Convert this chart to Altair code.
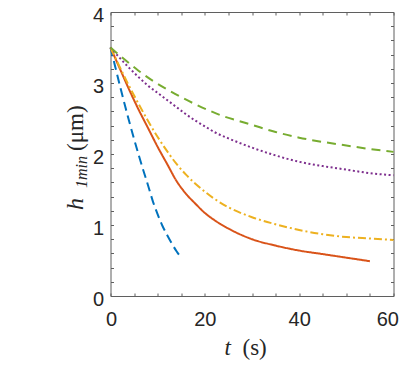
import altair as alt
import pandas as pd

# ---- data ----
t_blue = [0, 1, 2, 3, 4, 5, 6, 7, 8, 9, 10, 11, 12, 13, 14, 15]
h_blue = [3.50, 3.23, 2.96, 2.70, 2.45, 2.21, 1.98, 1.76, 1.55, 1.33, 1.15, 0.99, 0.86, 0.74, 0.63, 0.54]

t_red = [0, 2, 4, 6, 8, 10, 12, 14, 16, 18, 20, 22, 25, 30, 35, 40, 45, 50, 55]
h_red = [3.50, 3.20, 2.90, 2.62, 2.36, 2.10, 1.86, 1.62, 1.44, 1.30, 1.17, 1.07, 0.95, 0.80, 0.71, 0.64, 0.59, 0.54, 0.49]

t_yel = [0, 2, 4, 6, 8, 10, 12, 14, 16, 18, 20, 22, 25, 30, 35, 40, 45, 50, 55, 60]
h_yel = [3.50, 3.22, 2.95, 2.70, 2.46, 2.24, 2.04, 1.86, 1.71, 1.58, 1.47, 1.37, 1.25, 1.11, 1.01, 0.93, 0.87, 0.83, 0.81, 0.79]

t_pur = [0, 2, 4, 6, 8, 10, 12, 14, 16, 18, 20, 22, 25, 30, 35, 40, 45, 50, 55, 60]
h_pur = [3.50, 3.35, 3.21, 3.08, 2.96, 2.86, 2.76, 2.66, 2.56, 2.47, 2.39, 2.31, 2.22, 2.09, 1.98, 1.89, 1.83, 1.78, 1.73, 1.70]

t_grn = [0, 3, 6, 9, 12, 15, 18, 21, 24, 27, 30, 35, 40, 45, 50, 55, 60]
h_grn = [3.50, 3.33, 3.17, 3.03, 2.91, 2.80, 2.70, 2.61, 2.53, 2.47, 2.41, 2.31, 2.23, 2.17, 2.12, 2.07, 2.03]

series_names = ["s1", "s2", "s3", "s4", "s5"]
series_colors = ["#0072BD", "#D95319", "#EDB120", "#7E2F8E", "#77AC30"]
series_dashes = [[9, 5], [1, 0], [8, 3, 2, 3], [2, 2.5], [9, 6]]

x_ticks = [0, 5, 10, 15, 20, 25, 30, 35, 40, 45, 50, 55, 60]
y_ticks = [round(0.2 * i, 1) for i in range(21)]

rows = []
for name, ts, hs in zip(series_names,
                        [t_blue, t_red, t_yel, t_pur, t_grn],
                        [h_blue, h_red, h_yel, h_pur, h_grn]):
    for t, h in zip(ts, hs):
        rows.append({"series": name, "t": t, "h": h})
df = pd.DataFrame(rows)

AX = "#5f5f5f"
LBL = "#262626"
FONT = "Liberation Sans"
SERIF = "Liberation Serif"

xscale = alt.Scale(domain=[0, 60], nice=False, zero=False)
yscale = alt.Scale(domain=[0, 4], nice=False, zero=False)

lines = alt.Chart(df).mark_line(strokeWidth=2, interpolate="monotone").encode(
    x=alt.X("t:Q", scale=xscale, axis=alt.Axis(
        orient="bottom", values=x_ticks, title=None, grid=False, domain=False,
        tickSize=3, offset=-3, tickColor=AX, tickWidth=1,
        labelExpr="datum.value % 20 == 0 ? format(datum.value, 'd') : ''",
        labelFont=FONT, labelFontSize=20, labelColor=LBL, labelPadding=13,
        labelFlush=True, labelFlushOffset=5)),
    y=alt.Y("h:Q", scale=yscale, axis=alt.Axis(
        orient="left", values=y_ticks, title=None, grid=False, domain=False,
        tickSize=3, offset=-3, tickColor=AX, tickWidth=1,
        labelExpr="datum.value % 1 == 0 ? format(datum.value, 'd') : ''",
        labelFont=FONT, labelFontSize=20, labelColor=LBL, labelPadding=7,
        labelOffset=3.5, labelFlush=False)),
    color=alt.Color("series:N", scale=alt.Scale(domain=series_names, range=series_colors), legend=None),
    strokeDash=alt.StrokeDash("series:N", scale=alt.Scale(domain=series_names, range=series_dashes), legend=None),
)

frame = alt.Chart(df).mark_point(opacity=0).encode(
    x=alt.X("t:Q", scale=xscale, axis=alt.Axis(
        orient="top", values=x_ticks, title=None, grid=False, domain=False,
        tickSize=3, offset=-3, tickColor=AX, labels=False)),
    y=alt.Y("h:Q", scale=yscale, axis=alt.Axis(
        orient="right", values=y_ticks, title=None, grid=False, domain=False,
        tickSize=3, offset=-3, tickColor=AX, labels=False)),
)

# axis titles (LaTeX-like, italic symbols)
title_df = pd.DataFrame({"k": [0]})
xt1 = alt.Chart(title_df).mark_text(text="t", font=SERIF, fontSize=23, fontStyle="italic",
                                    align="left", baseline="alphabetic", color=LBL).encode(
    x=alt.value(114), y=alt.value(343))
xt2 = alt.Chart(title_df).mark_text(text="(s)", font=SERIF, fontSize=23,
                                    align="left", baseline="alphabetic", color=LBL).encode(
    x=alt.value(132), y=alt.value(343))
yt1 = alt.Chart(title_df).mark_text(text="h", font=SERIF, fontSize=24, fontStyle="italic", angle=270,
                                    align="left", baseline="alphabetic", color=LBL).encode(
    x=alt.value(-28), y=alt.value(198))
yt2 = alt.Chart(title_df).mark_text(text="1min", font=SERIF, fontSize=16, fontStyle="italic", angle=270,
                                    align="left", baseline="alphabetic", color=LBL).encode(
    x=alt.value(-24), y=alt.value(176))
yt3 = alt.Chart(title_df).mark_text(text="(μm)", font=SERIF, fontSize=23, angle=270,
                                    align="left", baseline="alphabetic", color=LBL).encode(
    x=alt.value(-28), y=alt.value(139))

chart = alt.layer(lines, frame, xt1, xt2, yt1, yt2, yt3).resolve_axis(
    x="independent", y="independent"
).properties(
    width=283, height=284,
    autosize=alt.AutoSizeParams(type="none"),
    padding={"left": 102.5, "top": 4, "right": 5.5, "bottom": 66},
).configure_view(stroke=AX, strokeWidth=1)

chart.save("out.html", embed_options={"renderer": "svg", "actions": False})
